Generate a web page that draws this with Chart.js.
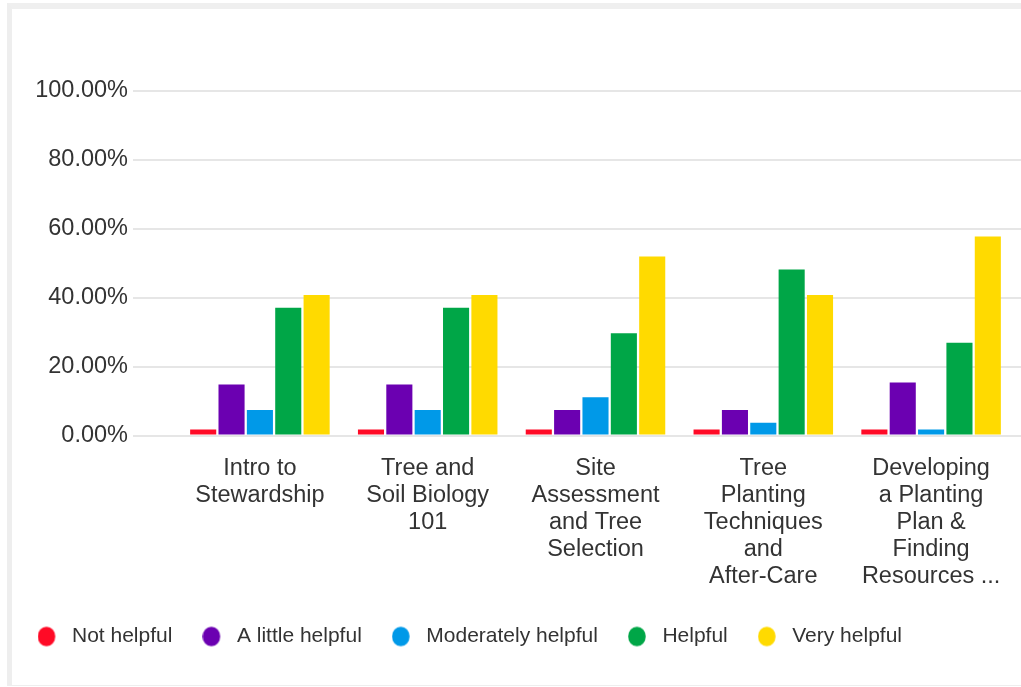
<!DOCTYPE html>
<html>
<head>
<meta charset="utf-8">
<script src="https://cdn.jsdelivr.net/npm/chart.js@4/dist/chart.umd.min.js"></script>
<style>
  html, body { margin: 0; padding: 0; background: #fff; overflow: hidden; }
  .frame {
    position: absolute; left: 7px; top: 3px; width: 1100px; height: 683px;
    box-sizing: border-box;
    border-left: 5px solid #eeeeee;
    border-top: 6px solid #efefef;
    border-bottom: 1px solid #eeeeee;
  }
  #bars { position: absolute; left: 0; top: 0; }
</style>
</head>
<body>
<div class="frame"></div>
<canvas id="bars" width="1021" height="687"></canvas>
<script>
var categories = [
  ["Intro to", "Stewardship"],
  ["Tree and", "Soil Biology", "101"],
  ["Site", "Assessment", "and Tree", "Selection"],
  ["Tree", "Planting", "Techniques", "and", "After-Care"],
  ["Developing", "a Planting", "Plan &", "Finding", "Resources ..."]
];
var notHelpful = [0, 0, 0, 0, 0];
var littleHelpful = [14.81, 14.81, 7.41, 7.41, 15.38];
var moderatelyHelpful = [7.41, 7.41, 11.11, 3.70, 0];
var helpful = [37.04, 37.04, 29.63, 48.15, 26.92];
var veryHelpful = [40.74, 40.74, 51.85, 40.74, 57.69];

var FONT = "'Liberation Sans', Arial, Helvetica, sans-serif";
var GRID = "#e6e6e6";

// round legend marker, drawn left-aligned on a wider canvas so the text sits further out
function dot(color) {
  var c = document.createElement("canvas");
  c.width = 24; c.height = 22;
  var g = c.getContext("2d");
  g.fillStyle = color;
  g.beginPath();
  g.ellipse(9, 11, 8.8, 9.8, 0, 0, Math.PI * 2);
  g.fill();
  return c;
}

function series(label, data, color) {
  return {
    label: label,
    data: data,
    backgroundColor: color,
    borderWidth: 0,
    minBarLength: 6,
    clip: 0,
    barPercentage: 0.92,
    categoryPercentage: 0.845
  };
}

var ctx = document.getElementById("bars").getContext("2d");
var chart = new Chart(ctx, {
  type: "bar",
  data: {
    labels: categories,
    datasets: [
      series("Not helpful", notHelpful, "#ff0a26"),
      series("A little helpful", littleHelpful, "#6b00b1"),
      series("Moderately helpful", moderatelyHelpful, "#0099e8"),
      series("Helpful", helpful, "#00a647"),
      series("Very helpful", veryHelpful, "#ffda00")
    ]
  },
  options: {
    responsive: false,
    animation: false,
    layout: { padding: { left: 7.5, top: 90.5, right: 0, bottom: 30 } },
    scales: {
      x: {
        grid: { display: false, drawTicks: false },
        border: { display: false },
        ticks: {
          autoSkip: false,
          maxRotation: 0,
          padding: 20,
          color: "#333",
          font: { family: FONT, size: 23.5, lineHeight: 1.14 }
        },
        afterFit: function (axis) { axis.height = 160.5; }
      },
      y: {
        min: 0,
        max: 100,
        grid: { color: GRID, lineWidth: 2, drawTicks: true, tickLength: 43 },
        border: { display: false },
        ticks: {
          stepSize: 20,
          padding: 5,
          color: "#333",
          font: { family: FONT, size: 23.5 },
          callback: function (v) { return v.toFixed(2) + "%"; }
        },
        afterFit: function (axis) { axis.width = 168.5; }
      },
      yRight: {
        position: "right",
        min: 0,
        max: 100,
        grid: { color: GRID, lineWidth: 2, drawOnChartArea: false, drawTicks: true, tickLength: 6 },
        border: { display: false },
        ticks: { display: false, stepSize: 20 }
      }
    },
    plugins: {
      tooltip: { enabled: false },
      legend: {
        position: "bottom",
        align: "start",
        labels: {
          usePointStyle: true,
          pointStyleWidth: 24,
          padding: 30,
          color: "#333",
          font: { family: FONT, size: 21 },
          generateLabels: function (c) {
            var items = Chart.defaults.plugins.legend.labels.generateLabels(c);
            items.forEach(function (it) { it.pointStyle = dot(it.fillStyle); });
            return items;
          }
        }
      }
    }
  }
});
</script>
</body>
</html>
